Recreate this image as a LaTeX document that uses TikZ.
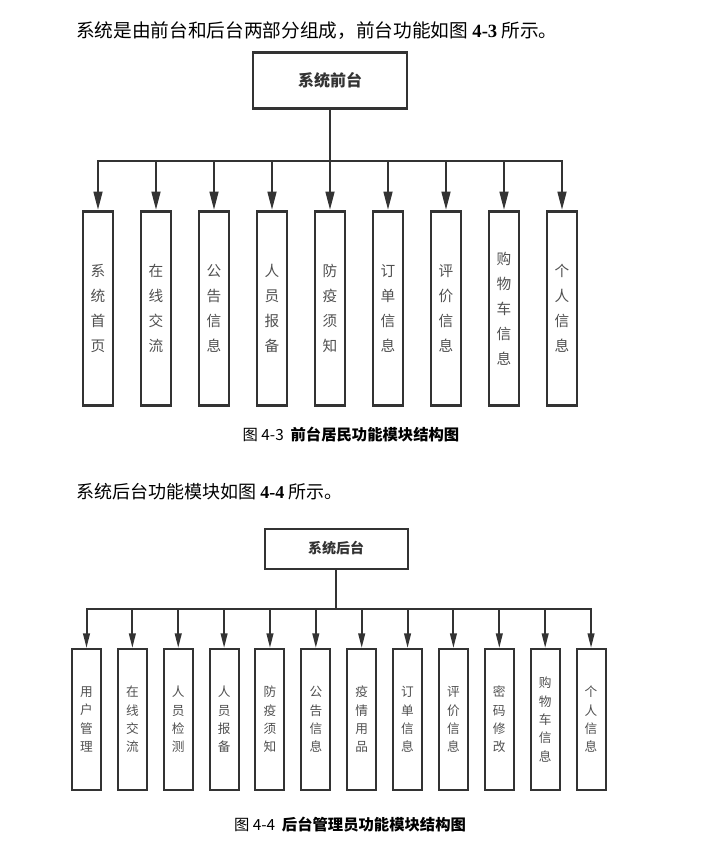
\documentclass[tikz,border=0pt]{standalone}
\usepackage{fontspec}
\setmainfont{Liberation Serif}
\newfontfamily\cjk{Noto Sans CJK SC}
\usepackage{tikz}
\usetikzlibrary{arrows.meta}
\definecolor{linegray}{HTML}{333333}
\definecolor{textgray}{HTML}{505050}

\begin{document}
\begin{tikzpicture}[
        x=0.75pt, y=-0.75pt,
        topbox/.style={rectangle, draw=linegray, fill=white, text=linegray},
        colbox/.style={rectangle, draw=linegray, align=center, text=textgray},
        arrow/.style={-{Triangle[length=14pt,width=6.5pt]}, draw=linegray},
        link/.style={draw=linegray}
    ]
        \useasboundingbox (0,0) rectangle (725,846);

        % Intro lines and captions
        \node[anchor=west, inner sep=0pt, font=\cjk\fontsize{14}{16}\selectfont] (intro1) at (76,31) {系统是由前台和后台两部分组成，前台功能如图 {\rmfamily\bfseries 4-3} 所示。};
        \node[font=\cjk\fontsize{11.5}{14}\selectfont] (cap1) at (351,435) {图 4-3\ \ {\bfseries 前台居民功能模块结构图}};
        \node[anchor=west, inner sep=0pt, font=\cjk\fontsize{13.5}{16}\selectfont] (intro2) at (76,492) {系统后台功能模块如图 {\rmfamily\bfseries 4-4} 所示。};
        \node[font=\cjk\fontsize{11.5}{14}\selectfont] (cap2) at (350,825) {图 4-4\ \ {\bfseries 后台管理员功能模块结构图}};

        % Front end (resident side)
        \begin{scope}[node distance=43.5pt, line width=2pt,
            colbox/.append style={minimum width=22.5pt, minimum height=145.5pt, font=\cjk\fontsize{11}{18.75}\selectfont}]
        \node[topbox, minimum width=115.5pt, minimum height=42pt, font=\cjk\bfseries\fontsize{12}{14}\selectfont] (front) at (330,80.5) {系统前台};
        \coordinate (fbus) at (330,161);

        \node[colbox] (f1) at (98,308.5) {系\\统\\首\\页};
        \node[colbox, right of=f1] (f2) {在\\线\\交\\流};
        \node[colbox, right of=f2] (f3) {公\\告\\信\\息};
        \node[colbox, right of=f3] (f4) {人\\员\\报\\备};
        \node[colbox, right of=f4] (f5) {防\\疫\\须\\知};
        \node[colbox, right of=f5] (f6) {订\\单\\信\\息};
        \node[colbox, right of=f6] (f7) {评\\价\\信\\息};
        \node[colbox, right of=f7] (f8) {购\\物\\车\\信\\息};
        \node[colbox, right of=f8] (f9) {个\\人\\信\\息};

        % Arrows
        \draw[link] (front.south) -- (fbus);
        \draw[arrow] (fbus) -| (f1.north);
        \draw[arrow] (fbus) -| (f2.north);
        \draw[arrow] (fbus) -| (f3.north);
        \draw[arrow] (fbus) -| (f4.north);
        \draw[arrow] (fbus) -| (f5.north);
        \draw[arrow] (fbus) -| (f6.north);
        \draw[arrow] (fbus) -| (f7.north);
        \draw[arrow] (fbus) -| (f8.north);
        \draw[arrow] (fbus) -| (f9.north);
        \end{scope}

        % Back end (admin side)
        \begin{scope}[node distance=34.4pt, line width=1.5pt,
            arrow/.style={-{Triangle[length=11pt,width=5pt]}, draw=linegray},
            colbox/.append style={minimum width=21.75pt, minimum height=105.75pt, font=\cjk\fontsize{9.5}{13.75}\selectfont}]
        \node[topbox, minimum width=107.25pt, minimum height=30pt, font=\cjk\bfseries\fontsize{10.5}{12}\selectfont] (back) at (336,548.5) {系统后台};
        \coordinate (bbus) at (336,609);

        \node[colbox] (b1) at (86.5,719.5) {用\\户\\管\\理};
        \node[colbox, right of=b1] (b2) {在\\线\\交\\流};
        \node[colbox, right of=b2] (b3) {人\\员\\检\\测};
        \node[colbox, right of=b3] (b4) {人\\员\\报\\备};
        \node[colbox, right of=b4] (b5) {防\\疫\\须\\知};
        \node[colbox, right of=b5] (b6) {公\\告\\信\\息};
        \node[colbox, right of=b6] (b7) {疫\\情\\用\\品};
        \node[colbox, right of=b7] (b8) {订\\单\\信\\息};
        \node[colbox, right of=b8] (b9) {评\\价\\信\\息};
        \node[colbox, right of=b9] (b10) {密\\码\\修\\改};
        \node[colbox, right of=b10] (b11) {购\\物\\车\\信\\息};
        \node[colbox, right of=b11] (b12) {个\\人\\信\\息};

        % Arrows
        \draw[link] (back.south) -- (bbus);
        \draw[arrow] (bbus) -| (b1.north);
        \draw[arrow] (bbus) -| (b2.north);
        \draw[arrow] (bbus) -| (b3.north);
        \draw[arrow] (bbus) -| (b4.north);
        \draw[arrow] (bbus) -| (b5.north);
        \draw[arrow] (bbus) -| (b6.north);
        \draw[arrow] (bbus) -| (b7.north);
        \draw[arrow] (bbus) -| (b8.north);
        \draw[arrow] (bbus) -| (b9.north);
        \draw[arrow] (bbus) -| (b10.north);
        \draw[arrow] (bbus) -| (b11.north);
        \draw[arrow] (bbus) -| (b12.north);
        \end{scope}
    \end{tikzpicture}
\end{document}
